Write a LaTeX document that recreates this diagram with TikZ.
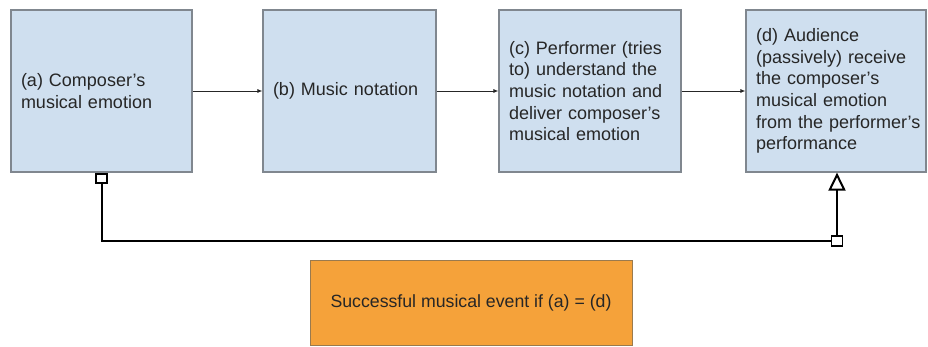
\documentclass[tikz,border=0pt]{standalone}
\usepackage{fontspec}
\setmainfont{Liberation Sans}
\usetikzlibrary{arrows.meta}
\hyphenpenalty=10000
\exhyphenpenalty=10000
\definecolor{boxfill}{HTML}{CFDFEF}
\definecolor{boxline}{HTML}{80878F}
\definecolor{orangefill}{HTML}{F5A23A}
\definecolor{orangeline}{HTML}{9A7A4E}
\definecolor{ink}{HTML}{262626}
\tikzset{
  stage/.style={draw=boxline, line width=1.2pt, fill=boxfill, minimum height=162pt,
    inner xsep=10pt, align=left, text=ink,
    font=\fontsize{18}{21.7}\selectfont},
  result/.style={draw=orangeline, line width=1pt, fill=orangefill, minimum width=322pt,
    minimum height=85pt, text=ink, font=\fontsize{17.7}{21}\selectfont},
  flow/.style={draw=ink, line width=0.8pt, -{Latex[length=5pt,width=4pt]}},
  loop/.style={draw=black, line width=2pt},
  joint/.style={draw=black, line width=1.6pt, fill=white, minimum width=11pt,
    minimum height=10pt, inner sep=0pt}
}
\begin{document}
\begin{tikzpicture}[x=1pt, y=-1pt]
\useasboundingbox (0,0) rectangle (928,347);

\node[stage, minimum width=181pt, text width=161pt] (a) at (101.5,91)
  {(a) Composer's\\musical emotion};
\node[stage, minimum width=173pt, text width=153pt] (b) at (349.5,91)
  {(b) Music notation};
\node[stage, minimum width=182pt, text width=162pt] (c) at (590,91)
  {(c) Performer (tries\\to) understand the\\music notation and\\deliver composer's\\musical emotion};
\node[stage, minimum width=180pt, text width=160pt] (d) at (836,91)
  {(d) Audience\\(passively) receive\\the composer's\\musical emotion\\\mbox{from the performer's}\\performance};

\node[result] (ok) at (471,302.5) {Successful musical event if (a) = (d)};

\draw[flow] (a) -- (b);
\draw[flow] (b) -- (c);
\draw[flow] (c) -- (d);

% feedback loop from the composer to the audience
\node[joint] (k) at (837,241) {};
\draw[loop, {Square[open,length=11pt,width=13pt]}-] (a.south) |- (k.west);
\draw[loop, -{Triangle[open,length=18pt,width=17pt]}] (k.north) -- (k.north |- d.south);
\end{tikzpicture}
\end{document}
